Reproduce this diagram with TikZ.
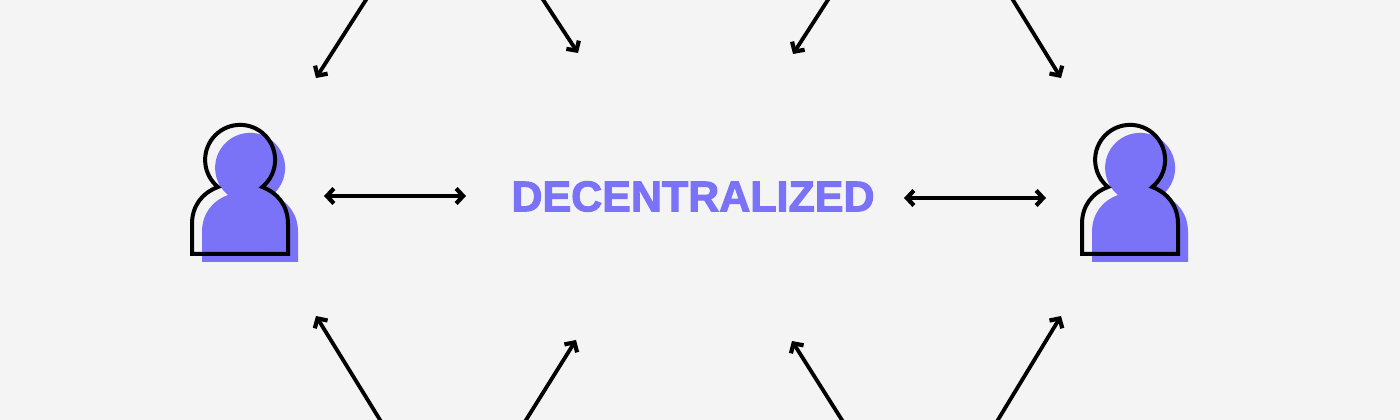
\documentclass[tikz,border=0pt]{standalone}
\usepackage{fontspec}
\setmainfont{Liberation Sans}
\usetikzlibrary{arrows.meta}
\definecolor{bgc}{HTML}{F4F4F4}
\definecolor{vio}{HTML}{7B73F7}
\tikzset{
  link/.style={line width=3.8pt,black,arrows={Straight Barb[length=7pt,width=15pt,line width=4.2pt]-}},
  biglink/.style={line width=3.6pt,black,arrows={Straight Barb[length=7pt,width=15pt,line width=4.2pt]-Straight Barb[length=7pt,width=15pt,line width=4.2pt]}},
  person/.pic={
    \def\personpath{(-22,-29) arc[start angle=230.8,end angle=-50.8,radius=35]
      .. controls (38,-35) and (48,-48) .. (48,-66) -- (48,-96) -- (-48,-96) -- (-48,-66)
      .. controls (-48,-48) and (-38,-35) .. cycle}
    \fill[vio,shift={(10,-8)}] \personpath;
    \draw[black,line width=4pt,line join=miter] \personpath;
  }
}
\begin{document}
\begin{tikzpicture}[x=1pt,y=1pt]
\useasboundingbox (0,0) rectangle (1400,420);
\fill[bgc] (0,0) rectangle (1400,420);
\pic (userL) at (240,262) {person};
\pic (userR) at (1130,262) {person};
\node[text=vio,font=\fontsize{43}{43}\selectfont\bfseries,inner sep=0pt,anchor=center] (label) at (693,223.5) {\special{pdf:literal direct 2 Tr 1 w}DECENTRALIZED};
% free ends
\coordinate (a1) at (316,342); \coordinate (a1o) at (371,428);
\coordinate (a2) at (578,367); \coordinate (a2o) at (538,428);
\coordinate (a3) at (793,366); \coordinate (a3o) at (833,428);
\coordinate (a4) at (1061,342); \coordinate (a4o) at (1008,428);
\coordinate (b1) at (316,104); \coordinate (b1o) at (385,-8);
\coordinate (b2) at (576,80); \coordinate (b2o) at (521,-8);
\coordinate (b3) at (792,79); \coordinate (b3o) at (847,-8);
\coordinate (b4) at (1061,104); \coordinate (b4o) at (993,-8);
\coordinate (h1) at (324,224); \coordinate (h2) at (466,224);
\coordinate (h3) at (904,222); \coordinate (h4) at (1046,222);
\draw[link] (a1) -- (a1o);
\draw[link] (a2) -- (a2o);
\draw[link] (a3) -- (a3o);
\draw[link] (a4) -- (a4o);
\draw[link] (b1) -- (b1o);
\draw[link] (b2) -- (b2o);
\draw[link] (b3) -- (b3o);
\draw[link] (b4) -- (b4o);
\draw[biglink] (h1) -- (h2);
\draw[biglink] (h3) -- (h4);
\end{tikzpicture}
\end{document}
